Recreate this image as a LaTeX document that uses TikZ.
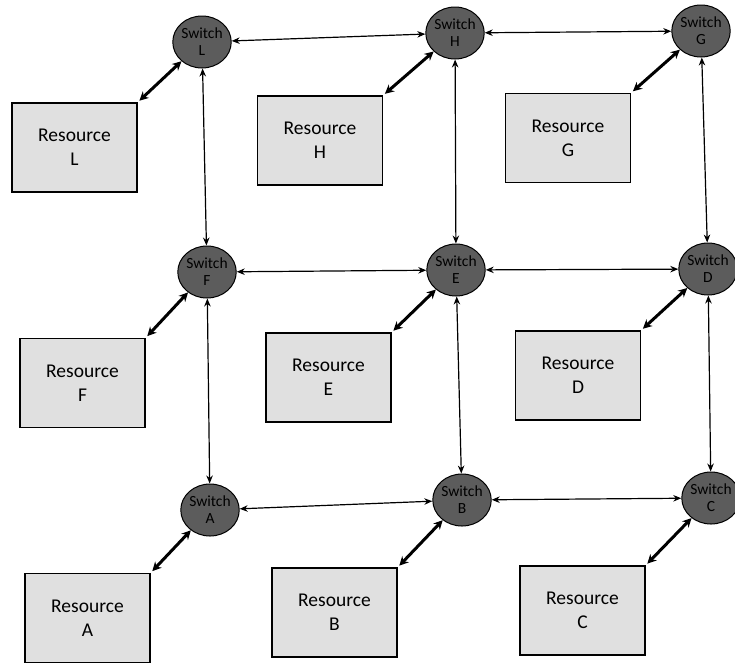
\documentclass[tikz,border=0pt]{standalone}
\usepackage{fontspec}
\setmainfont{Carlito}
\usetikzlibrary{shapes.geometric,arrows.meta}
\definecolor{swfill}{gray}{0.36}
\definecolor{boxfill}{gray}{0.88}
\tikzset{
  switchnode/.style={ellipse, draw=black, line width=1pt, fill=swfill,
    minimum width=57pt, minimum height=52pt, inner sep=0pt, align=center,
    font=\fontsize{15.5}{17}\selectfont, text=black},
  resbox/.style={rectangle, draw=black, line width=1.8pt, fill=boxfill,
    minimum width=125pt, minimum height=89pt, align=center,
    font=\fontsize{19.5}{24}\selectfont},
  link/.style={line width=1.2pt, {Stealth[length=8pt,width=6.5pt]}-{Stealth[length=8pt,width=6.5pt]}},
  access/.style={line width=3pt, {Stealth[length=9pt,width=9pt]}-{Stealth[length=9pt,width=9pt]}, shorten <=2pt}
}
\begin{document}
\begin{tikzpicture}[x=1pt,y=-1pt]
\useasboundingbox (0,0) rectangle (735,667);

% switches
\node[switchnode] (swL) at (202,42)  {Switch\\L};
\node[switchnode] (swH) at (455,33)  {Switch\\H};
\node[switchnode] (swG) at (701,31)  {Switch\\G};
\node[switchnode] (swF) at (207,272) {Switch\\F};
\node[switchnode] (swE) at (456,270) {Switch\\E};
\node[switchnode] (swD) at (708,269) {Switch\\D};
\node[switchnode] (swA) at (210,510) {Switch\\A};
\node[switchnode] (swB) at (462,500) {Switch\\B};
\node[switchnode] (swC) at (711,498) {Switch\\C};

% resources
\node[resbox] (rL) at (74.5,147.5)  {Resource\\L};
\node[resbox] (rH) at (320,140.5)   {Resource\\H};
\node[resbox] (rG) at (568,138)     {Resource\\G};
\node[resbox] (rF) at (82.5,383)    {Resource\\F};
\node[resbox] (rE) at (328.5,377.5) {Resource\\E};
\node[resbox] (rD) at (578,375.5)   {Resource\\D};
\node[resbox] (rA) at (87.5,618)    {Resource\\A};
\node[resbox] (rB) at (334.5,612.5) {Resource\\B};
\node[resbox] (rC) at (582.5,610.5) {Resource\\C};

% switch-to-switch links
\draw[link] (swL) -- (swH);
\draw[link] (swH) -- (swG);
\draw[link] (swF) -- (swE);
\draw[link] (swE) -- (swD);
\draw[link] (swA) -- (swB);
\draw[link] (swB) -- (swC);
\draw[link] (swL) -- (swF);
\draw[link] (swF) -- (swA);
\draw[link] (swH) -- (swE);
\draw[link] (swE) -- (swB);
\draw[link] (swG) -- (swD);
\draw[link] (swD) -- (swC);

% resource access links
\foreach \r in {L,H,G,F,E,D,A,B,C}
  \draw[access] (r\r.north east) -- (sw\r);
\end{tikzpicture}
\end{document}
